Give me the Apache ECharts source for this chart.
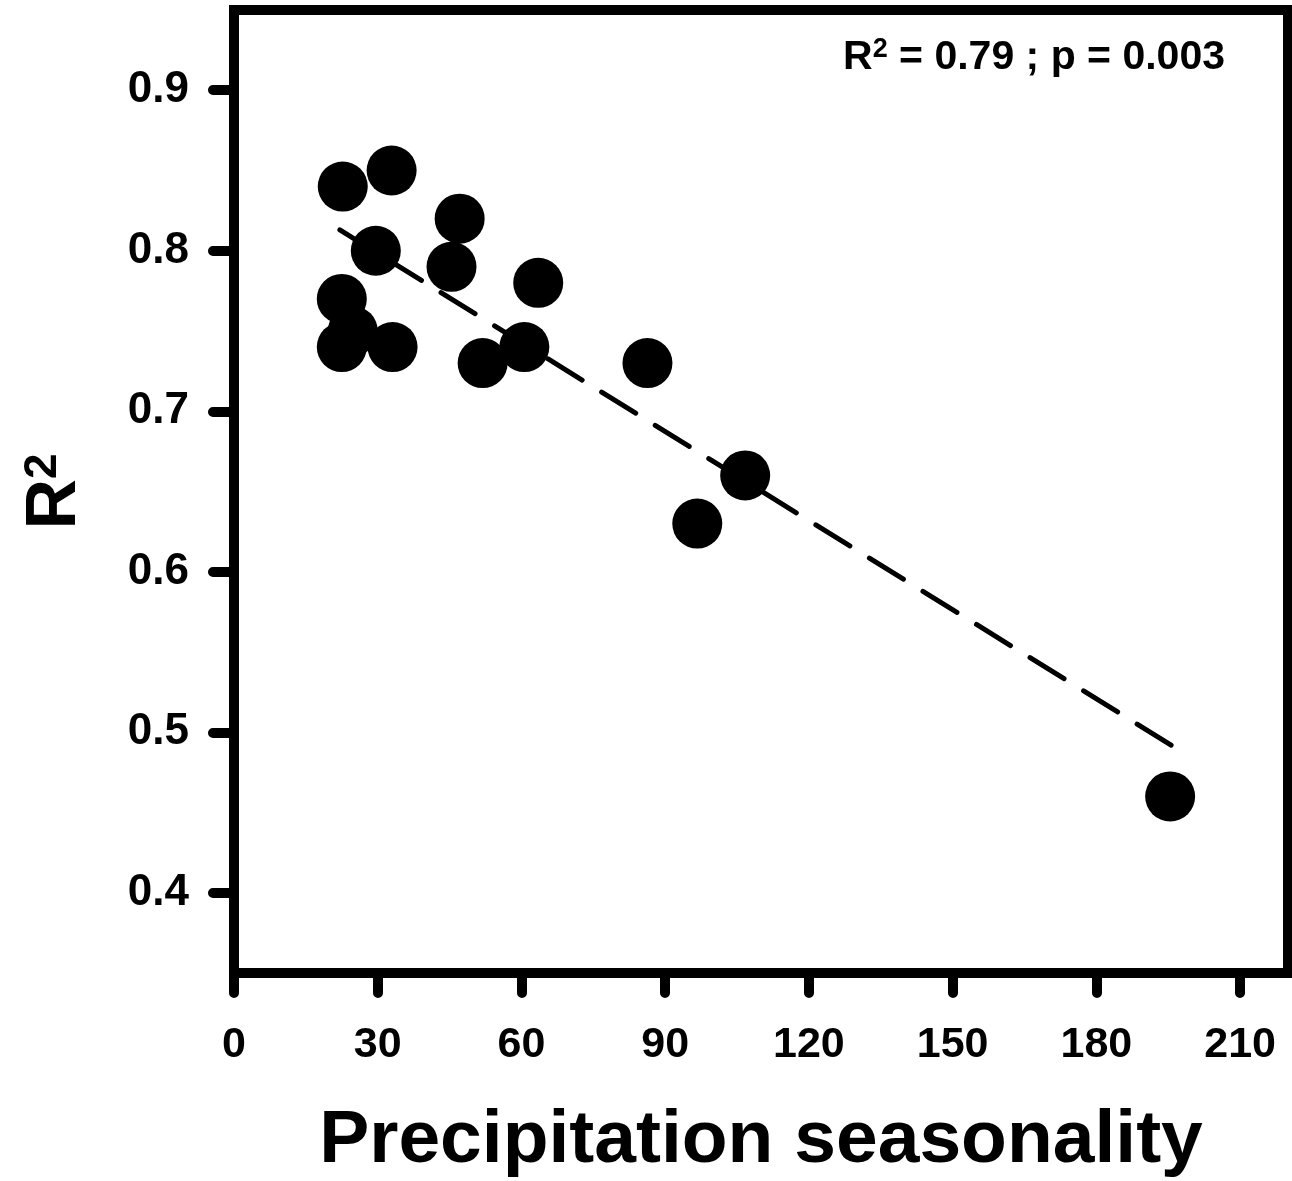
<!DOCTYPE html>
<html><head><meta charset="utf-8">
<script src="https://cdn.jsdelivr.net/npm/echarts@6/dist/echarts.min.js"></script>
<style>html,body{margin:0;padding:0;background:#fff}#c{width:1292px;height:1181px}</style>
</head><body><div id="c"></div>
<script>
const seasonality = [22.7, 32.9, 29.6, 47.1, 45.4, 63.5, 22.5, 24.8, 22.5, 33.1, 51.9, 60.6, 86.3, 106.7, 96.7, 195.4];
const r2Values    = [0.84, 0.85, 0.80, 0.82, 0.79, 0.78, 0.77, 0.75, 0.74, 0.74, 0.73, 0.74, 0.73, 0.66, 0.63, 0.46];
const trendX = [22.1, 195.6];
const trendY = [0.813, 0.492];
const xTicks = [0, 30, 60, 90, 120, 150, 180, 210];
const yTicks = [0.4, 0.5, 0.6, 0.7, 0.8, 0.9];
const xTitle = 'Precipitation seasonality';
const statR2 = '0.79';
const statP = '0.003';

const FONT = "'Liberation Sans', Arial, Helvetica, sans-serif";
const chart = echarts.init(document.getElementById('c'), null, {renderer: 'canvas'});

const points = seasonality.map((x, i) => [x, r2Values[i]]);
const trend = trendX.map((x, i) => [x, trendY[i]]);

chart.setOption({
  backgroundColor: '#fff',
  animation: false,
  grid: {left: 234, right: 4, top: 10, bottom: 208, show: true, borderWidth: 10, borderColor: '#000',
         backgroundColor: 'transparent', containLabel: false, outerBoundsMode: 'none'},
  xAxis: {
    type: 'value', min: 0, max: 220,
    name: xTitle, nameLocation: 'middle', nameGap: 131,
    nameTextStyle: {fontFamily: FONT, fontWeight: 'bold', fontSize: 75, color: '#000'},
    axisLine: {show: false},
    splitLine: {show: false},
    axisTick: {show: true, inside: false, length: 20, customValues: xTicks, lineStyle: {color: '#000', width: 10, cap: 'round'}},
    axisLabel: {customValues: xTicks, margin: 51, fontFamily: FONT, fontWeight: 'bold', fontSize: 43, color: '#000'}
  },
  yAxis: {
    type: 'value', min: 0.35, max: 0.95,
    name: '{r|R}{s|2}', nameLocation: 'middle', nameGap: 142,
    nameTextStyle: {
      color: '#000',
      rich: {
        r: {fontFamily: FONT, fontWeight: 'bold', fontSize: 70, color: '#000', lineHeight: 72},
        s: {fontFamily: FONT, fontWeight: 'bold', fontSize: 46, color: '#000', verticalAlign: 'top', lineHeight: 72}
      }
    },
    axisLine: {show: false},
    splitLine: {show: false},
    axisTick: {show: true, inside: false, length: 21, customValues: yTicks, lineStyle: {color: '#000', width: 10, cap: 'round'}},
    axisLabel: {customValues: yTicks, margin: 45, fontFamily: FONT, fontWeight: 'bold', fontSize: 44, color: '#000',
      formatter: v => v.toFixed(1)}
  },
  graphic: [{
    type: 'text', right: 67, top: 36,
    style: {
      text: '{r|R}{s|2}{r| = ' + statR2 + ' ; p = ' + statP + '}',
      rich: {
        r: {fontFamily: FONT, fontWeight: 'bold', fontSize: 41, fill: '#000', lineHeight: 43},
        s: {fontFamily: FONT, fontWeight: 'bold', fontSize: 27, fill: '#000', verticalAlign: 'top', lineHeight: 43}
      }
    }
  }],
  series: [
    {type: 'line', data: trend, showSymbol: false, symbol: 'none', z: 1,
     lineStyle: {color: '#000', width: 5, type: [40, 23], dashOffset: 7, cap: 'round'}},
    {type: 'scatter', data: points, symbol: 'circle', symbolSize: 50, z: 3,
     itemStyle: {color: '#000', opacity: 1}}
  ]
});
</script></body></html>
